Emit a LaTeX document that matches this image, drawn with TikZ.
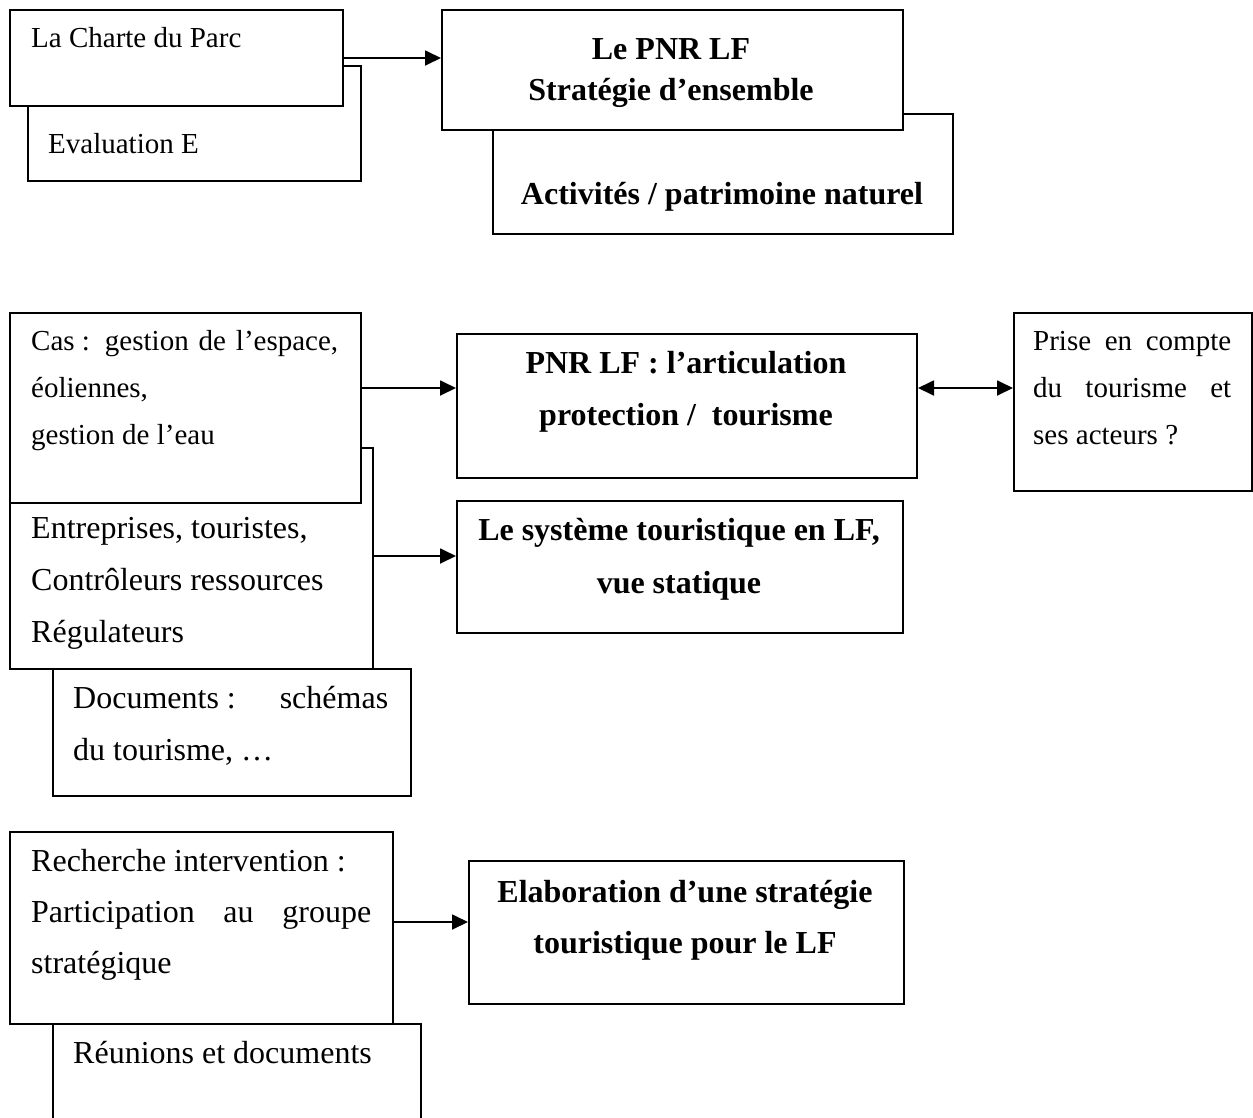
\documentclass[tikz,border=0pt]{standalone}
\usepackage{fontspec}
\setmainfont{Liberation Serif}
\usetikzlibrary{arrows.meta}
\begin{document}
\begin{tikzpicture}[x=1pt,y=-1pt,
  box/.style={draw, fill=white, line width=2pt, inner sep=0pt, anchor=north west},
  lbl/.style={inner sep=0pt, anchor=base west},
  clbl/.style={inner sep=0pt, anchor=base},
  reg/.style={font={\fontsize{29pt}{#1}\selectfont}},
  big/.style={font={\fontsize{32pt}{#1}\selectfont}},
  hd/.style={font={\bfseries\fontsize{32pt}{#1}\selectfont}},
  arr/.style={line width=1.8pt, -{Triangle[length=16pt,width=15pt]}},
  darr/.style={line width=1.8pt, {Triangle[length=16pt,width=15pt]}-{Triangle[length=16pt,width=15pt]}},
]
\useasboundingbox (0,0) rectangle (1253,1117);
\fill[white] (0,0) rectangle (1253,1117);

% ---- first block: the charter and the park's overall strategy
\node[box, minimum width=333pt, minimum height=115pt] (eval) at (27,65) {};
\node[box, minimum width=333pt, minimum height=96pt] (charte) at (9,9) {};
\node[box, minimum width=460pt, minimum height=120pt] (activ) at (492,113) {};
\node[box, minimum width=461pt, minimum height=120pt] (pnr) at (441,9) {};

% ---- second block: cases, actors, documents
\node[box, minimum width=358pt, minimum height=127pt] (docs) at (52,668) {};
\node[box, minimum width=363pt, minimum height=221pt] (entr) at (9,447) {};
\node[box, minimum width=351pt, minimum height=190pt] (cas) at (9,312) {};
\node[box, minimum width=460pt, minimum height=144pt] (artic) at (456,333) {};
\node[box, minimum width=238pt, minimum height=178pt] (prise) at (1013,312) {};
\node[box, minimum width=446pt, minimum height=132pt] (syst) at (456,500) {};

% ---- third block: intervention research
\node[box, minimum width=368pt, minimum height=130pt] (reun) at (52,1023) {};
\node[box, minimum width=383pt, minimum height=192pt] (rech) at (9,831) {};
\node[box, minimum width=435pt, minimum height=143pt] (elab) at (468,860) {};

% ---- texts
\node[lbl, reg=47pt] (chartetxt) at (31,47) {La Charte du Parc};
\node[lbl, reg=47pt] (evaltxt) at (48,153) {Evaluation E};
\node[clbl, hd=41pt] (pnrtxt) at (671,59)
  {\parbox[t]{440pt}{\centering Le PNR LF\\Stratégie d’ensemble}};
\node[clbl, hd=52pt] (activtxt) at (722,204) {Activités / patrimoine naturel};

\node[lbl, reg=47pt] (castxt) at (31,350)
  {\parbox[t]{320pt}{\makebox[307pt][s]{Cas\hbox{ }: gestion de l’espace,}\\éoliennes,\\gestion de l’eau}};
\node[lbl, big=52pt] (entrtxt) at (31,538)
  {\parbox[t]{335pt}{Entreprises, touristes,\\Contrôleurs ressources\\Régulateurs}};
\node[lbl, big=52pt] (docstxt) at (73,708)
  {\parbox[t]{315pt}{\makebox[315pt][s]{Documents\hbox{ }: schémas}\\du tourisme, …}};
\node[clbl, hd=52pt] (artictxt) at (686,373)
  {\parbox[t]{440pt}{\centering PNR LF : l’articulation\\protection / \ tourisme}};
\node[lbl, reg=47pt] (prisetxt) at (1033,350)
  {\parbox[t]{198pt}{\makebox[198pt][s]{Prise en compte}\\\makebox[198pt][s]{du tourisme et}\\ses acteurs ?}};
\node[clbl, hd=53pt] (systtxt) at (679,540)
  {\parbox[t]{440pt}{\centering Le système touristique en LF,\\vue statique}};

\node[lbl, big=51pt] (rechtxt) at (31,871)
  {\parbox[t]{340pt}{Recherche intervention :\\\makebox[340pt][s]{Participation au groupe}\\stratégique}};
\node[lbl, big=52pt] (reuntxt) at (73,1063) {Réunions et documents};
\node[clbl, hd=51pt] (elabtxt) at (685,902)
  {\parbox[t]{430pt}{\centering Elaboration d’une stratégie\\touristique pour le LF}};

% ---- connectors
\draw[arr] (charte.east) -- (charte.east -| pnr.west);
\coordinate (casout) at ([yshift=-76pt]cas.north east);
\draw[arr] (casout) -- (casout -| artic.west);
\draw[darr] (casout -| artic.east) -- (casout -| prise.west);
\coordinate (entrout) at ([yshift=-109pt]entr.north east);
\draw[arr] (entrout) -- (entrout -| syst.west);
\coordinate (rechout) at ([yshift=-91pt]rech.north east);
\draw[arr] (rechout) -- (rechout -| elab.west);
\end{tikzpicture}
\end{document}
